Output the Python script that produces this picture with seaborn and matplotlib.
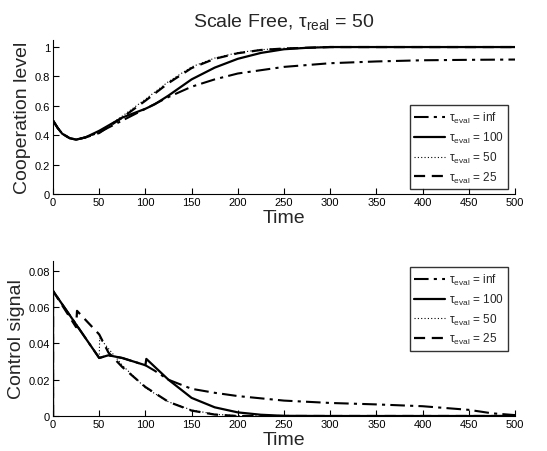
import numpy as np
import pandas as pd
import matplotlib
matplotlib.use("Agg")
import matplotlib.pyplot as plt
import seaborn as sns

sns.set_style("white")
plt.rcParams['font.family'] = ['Liberation Sans', 'DejaVu Sans']
plt.rcParams['mathtext.fontset'] = 'custom'
plt.rcParams['mathtext.rm'] = 'Liberation Sans'
plt.rcParams['mathtext.it'] = 'Liberation Sans:italic'

labels = ['τ$_{\\rm eval}$ = inf', 'τ$_{\\rm eval}$ = 100',
          'τ$_{\\rm eval}$ = 50', 'τ$_{\\rm eval}$ = 25']

# Cooperation level
coop_t_inf = [0, 5, 10, 18, 25, 35, 50, 75, 100, 125, 150, 175, 200, 250, 300, 350, 400, 450, 500]
coop_inf   = [0.50, 0.45, 0.41, 0.38, 0.37, 0.385, 0.42, 0.50, 0.58, 0.66, 0.73, 0.78, 0.82, 0.865, 0.89, 0.902, 0.91, 0.913, 0.915]
coop_t_100 = [0, 5, 10, 18, 25, 35, 50, 75, 100, 110, 125, 150, 175, 200, 225, 250, 275, 300, 400, 500]
coop_100   = [0.50, 0.45, 0.41, 0.38, 0.37, 0.385, 0.43, 0.52, 0.58, 0.61, 0.67, 0.78, 0.86, 0.92, 0.96, 0.985, 0.995, 1.0, 1.0, 1.0]
coop_t_50  = [0, 5, 10, 18, 25, 35, 50, 75, 100, 125, 150, 175, 200, 225, 250, 300, 400, 500]
coop_50    = [0.50, 0.45, 0.41, 0.38, 0.37, 0.385, 0.42, 0.53, 0.645, 0.765, 0.865, 0.925, 0.962, 0.982, 0.992, 1.0, 1.0, 1.0]
coop_t_25  = [0, 5, 10, 18, 25, 35, 50, 75, 100, 125, 150, 175, 200, 225, 250, 300, 400, 500]
coop_25    = [0.50, 0.45, 0.41, 0.38, 0.37, 0.385, 0.415, 0.52, 0.635, 0.755, 0.857, 0.92, 0.958, 0.98, 0.99, 1.0, 1.0, 1.0]

# Control signal
ctrl_t_inf = [0, 0, 50, 60, 75, 100, 110, 125, 150, 175, 200, 250, 300, 350, 400, 450, 475, 500]
ctrl_inf   = [0, 0.069, 0.032, 0.0335, 0.032, 0.028, 0.025, 0.020, 0.015, 0.0128, 0.011, 0.0085, 0.0072, 0.0064, 0.0054, 0.0034, 0.0015, 0.0005]
ctrl_t_100 = [0, 0, 50, 60, 75, 100, 101, 125, 150, 175, 200, 225, 250, 300, 500]
ctrl_100   = [0, 0.069, 0.032, 0.0335, 0.032, 0.028, 0.0315, 0.020, 0.010, 0.0048, 0.002, 0.0007, 0.0001, 0.0, 0.0]
ctrl_t_50  = [0, 0, 50, 50.5, 75, 100, 125, 150, 175, 200, 300, 500]
ctrl_50    = [0, 0.069, 0.032, 0.043, 0.028, 0.0155, 0.0078, 0.0033, 0.001, 0.0001, 0.0, 0.0]
ctrl_t_25  = [0, 0, 25, 26, 50, 60, 75, 100, 125, 150, 175, 200, 300, 500]
ctrl_25    = [0, 0.069, 0.049, 0.058, 0.045, 0.035, 0.027, 0.016, 0.0078, 0.003, 0.0008, 0.0, 0.0, 0.0]

time_ticks = list(range(0, 501, 50))
coop_ticks = [0, 0.2, 0.4, 0.6, 0.8, 1]
ctrl_ticks = [0, 0.02, 0.04, 0.06, 0.08]

styles = [dict(ls=(0, (7, 2.5, 1.5, 2.5)), lw=1.5),
          dict(ls='-', lw=1.6),
          dict(ls=(0, (1, 2)), lw=0.8),
          dict(ls=(0, (5, 3)), lw=1.6)]

fig = plt.figure(figsize=(5.47, 4.52), dpi=100)
ax1 = fig.add_axes([0.0969, 0.5686, 0.8446, 0.3407])
ax2 = fig.add_axes([0.0969, 0.0774, 0.8446, 0.343])

coop_series = [(coop_t_inf, coop_inf), (coop_t_100, coop_100), (coop_t_50, coop_50), (coop_t_25, coop_25)]
ctrl_series = [(ctrl_t_inf, ctrl_inf), (ctrl_t_100, ctrl_100), (ctrl_t_50, ctrl_50), (ctrl_t_25, ctrl_25)]

for ax, series in [(ax1, coop_series), (ax2, ctrl_series)]:
    for (t, v), lab, st in zip(series, labels, styles):
        sns.lineplot(x=t, y=v, ax=ax, sort=False, estimator=None, color='black',
                     linestyle=st['ls'], linewidth=st['lw'], label=lab)

for ax in (ax1, ax2):
    ax.set_xlim(0, 500)
    ax.set_xticks(time_ticks)
    ax.set_xticklabels([str(t) for t in time_ticks])
    for s in ('top', 'right'):
        ax.spines[s].set_visible(False)
    for s in ('left', 'bottom'):
        ax.spines[s].set_color('black')
        ax.spines[s].set_linewidth(0.8)
    ax.tick_params(direction='in', length=4, width=0.8, labelsize=8, colors='black',
                   bottom=True, left=True, pad=2)
    ax.set_xlabel('Time', fontsize=14, labelpad=1.5)

ax1.set_ylim(0, 1.048)
ax1.set_yticks(coop_ticks)
ax1.set_yticklabels(['0', '0.2', '0.4', '0.6', '0.8', '1'])
ax1.set_ylabel('Cooperation level', fontsize=14, labelpad=3)
ax1.set_title('Scale Free, τ$_{\\rm real}$ = 50', fontsize=14, pad=10)

ax2.set_ylim(0, 0.0855)
ax2.set_yticks(ctrl_ticks)
ax2.set_yticklabels(['0', '0.02', '0.04', '0.06', '0.08'])
ax2.set_ylabel('Control signal', fontsize=14, labelpad=3)

leg_kw = dict(fontsize=8.5, frameon=True, fancybox=False, edgecolor='black',
              handlelength=2.6, handletextpad=0.3, borderpad=0.4, labelspacing=0.4,
              borderaxespad=0)
l1 = ax1.legend(loc='lower right', bbox_to_anchor=(0.985, 0.03), **leg_kw)
l2 = ax2.legend(loc='upper right', bbox_to_anchor=(0.985, 0.96), **leg_kw)
for l in (l1, l2):
    l.get_frame().set_linewidth(1.0)

fig.savefig('out.png', dpi=100)
